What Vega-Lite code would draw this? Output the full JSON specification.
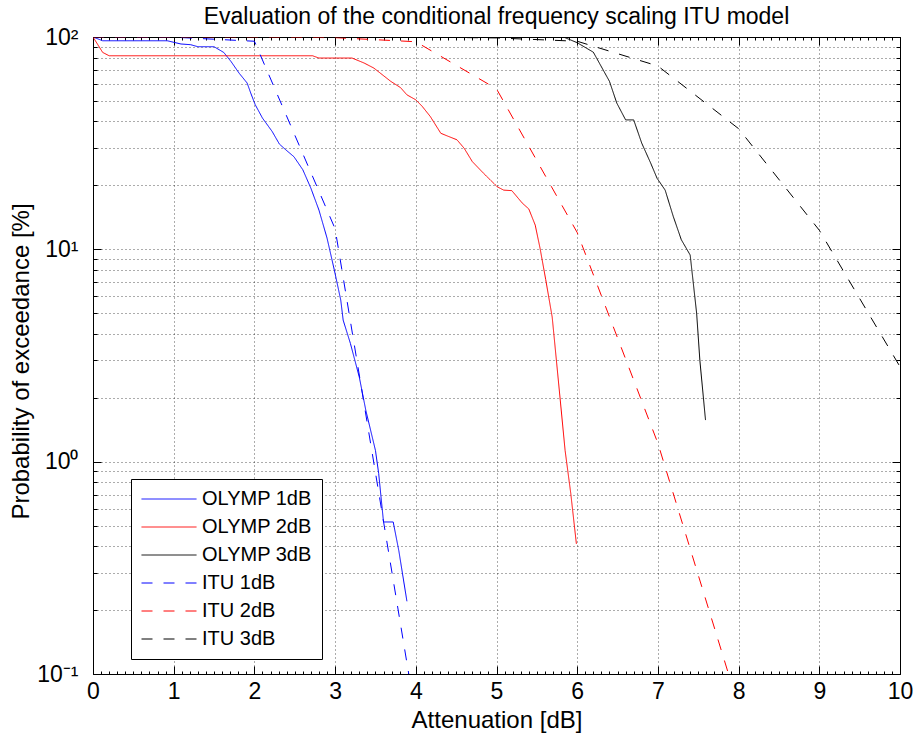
{
  "$schema": "https://vega.github.io/schema/vega-lite/v6.json",
  "width": 807,
  "height": 637,
  "autosize": {"type": "none"},
  "padding": {"left": 93, "top": 37, "right": 20, "bottom": 66},
  "background": "white",
  "title": {"text": "Evaluation of the conditional frequency scaling ITU model", "font": "Liberation Sans", "fontSize": 23, "fontWeight": "normal", "color": "#000000", "anchor": "middle", "frame": "group", "baseline": "alphabetic", "offset": -21},
  "data": {"values": [
    {"series": "OLYMP 1dB", "att": 0, "prob": 100},
    {"series": "OLYMP 1dB", "att": 0.12, "prob": 96},
    {"series": "OLYMP 1dB", "att": 0.92, "prob": 96},
    {"series": "OLYMP 1dB", "att": 1.09, "prob": 92.7},
    {"series": "OLYMP 1dB", "att": 1.21, "prob": 92},
    {"series": "OLYMP 1dB", "att": 1.3, "prob": 90},
    {"series": "OLYMP 1dB", "att": 1.5, "prob": 90},
    {"series": "OLYMP 1dB", "att": 1.62, "prob": 84.6},
    {"series": "OLYMP 1dB", "att": 1.71, "prob": 76.7},
    {"series": "OLYMP 1dB", "att": 1.81, "prob": 67.6},
    {"series": "OLYMP 1dB", "att": 1.91, "prob": 60.7},
    {"series": "OLYMP 1dB", "att": 1.955, "prob": 54.4},
    {"series": "OLYMP 1dB", "att": 2.01, "prob": 48},
    {"series": "OLYMP 1dB", "att": 2.1, "prob": 41.5},
    {"series": "OLYMP 1dB", "att": 2.22, "prob": 35.9},
    {"series": "OLYMP 1dB", "att": 2.31, "prob": 31.3},
    {"series": "OLYMP 1dB", "att": 2.39, "prob": 29.4},
    {"series": "OLYMP 1dB", "att": 2.49, "prob": 27.3},
    {"series": "OLYMP 1dB", "att": 2.6, "prob": 23.7},
    {"series": "OLYMP 1dB", "att": 2.7, "prob": 19.4},
    {"series": "OLYMP 1dB", "att": 2.8, "prob": 15.3},
    {"series": "OLYMP 1dB", "att": 2.9, "prob": 11.3},
    {"series": "OLYMP 1dB", "att": 2.99, "prob": 8.0},
    {"series": "OLYMP 1dB", "att": 3.07, "prob": 5.77},
    {"series": "OLYMP 1dB", "att": 3.1, "prob": 4.64},
    {"series": "OLYMP 1dB", "att": 3.19, "prob": 3.6},
    {"series": "OLYMP 1dB", "att": 3.3, "prob": 2.5},
    {"series": "OLYMP 1dB", "att": 3.38, "prob": 1.75},
    {"series": "OLYMP 1dB", "att": 3.5, "prob": 1.13},
    {"series": "OLYMP 1dB", "att": 3.54, "prob": 0.88},
    {"series": "OLYMP 1dB", "att": 3.6, "prob": 0.52},
    {"series": "OLYMP 1dB", "att": 3.72, "prob": 0.52},
    {"series": "OLYMP 1dB", "att": 3.79, "prob": 0.38},
    {"series": "OLYMP 1dB", "att": 3.89, "prob": 0.22},
    {"series": "OLYMP 2dB", "att": 0, "prob": 100},
    {"series": "OLYMP 2dB", "att": 0.12, "prob": 84.6},
    {"series": "OLYMP 2dB", "att": 0.2, "prob": 81.6},
    {"series": "OLYMP 2dB", "att": 2.72, "prob": 81.6},
    {"series": "OLYMP 2dB", "att": 2.8, "prob": 79.6},
    {"series": "OLYMP 2dB", "att": 3.21, "prob": 79.6},
    {"series": "OLYMP 2dB", "att": 3.36, "prob": 75.4},
    {"series": "OLYMP 2dB", "att": 3.48, "prob": 71.4},
    {"series": "OLYMP 2dB", "att": 3.69, "prob": 61.8},
    {"series": "OLYMP 2dB", "att": 3.81, "prob": 57.8},
    {"series": "OLYMP 2dB", "att": 3.89, "prob": 53.4},
    {"series": "OLYMP 2dB", "att": 4.0, "prob": 50.6},
    {"series": "OLYMP 2dB", "att": 4.08, "prob": 47.1},
    {"series": "OLYMP 2dB", "att": 4.18, "prob": 42.2},
    {"series": "OLYMP 2dB", "att": 4.31, "prob": 35.2},
    {"series": "OLYMP 2dB", "att": 4.39, "prob": 34.2},
    {"series": "OLYMP 2dB", "att": 4.51, "prob": 32.8},
    {"series": "OLYMP 2dB", "att": 4.6, "prob": 29.9},
    {"series": "OLYMP 2dB", "att": 4.7, "prob": 25.9},
    {"series": "OLYMP 2dB", "att": 4.84, "prob": 22.8},
    {"series": "OLYMP 2dB", "att": 5.01, "prob": 19.7},
    {"series": "OLYMP 2dB", "att": 5.09, "prob": 19.0},
    {"series": "OLYMP 2dB", "att": 5.19, "prob": 18.9},
    {"series": "OLYMP 2dB", "att": 5.32, "prob": 16.5},
    {"series": "OLYMP 2dB", "att": 5.4, "prob": 15.5},
    {"series": "OLYMP 2dB", "att": 5.48, "prob": 13.0},
    {"series": "OLYMP 2dB", "att": 5.54, "prob": 10.1},
    {"series": "OLYMP 2dB", "att": 5.61, "prob": 7.2},
    {"series": "OLYMP 2dB", "att": 5.69, "prob": 4.8},
    {"series": "OLYMP 2dB", "att": 5.73, "prob": 3.35},
    {"series": "OLYMP 2dB", "att": 5.79, "prob": 1.95},
    {"series": "OLYMP 2dB", "att": 5.85, "prob": 1.13},
    {"series": "OLYMP 2dB", "att": 5.92, "prob": 0.71},
    {"series": "OLYMP 2dB", "att": 5.99, "prob": 0.41},
    {"series": "OLYMP 3dB", "att": 0, "prob": 100},
    {"series": "OLYMP 3dB", "att": 5.83, "prob": 100},
    {"series": "OLYMP 3dB", "att": 6.0, "prob": 94},
    {"series": "OLYMP 3dB", "att": 6.2, "prob": 84.8},
    {"series": "OLYMP 3dB", "att": 6.4, "prob": 61.8},
    {"series": "OLYMP 3dB", "att": 6.49, "prob": 48.9},
    {"series": "OLYMP 3dB", "att": 6.6, "prob": 40.7},
    {"series": "OLYMP 3dB", "att": 6.7, "prob": 40.7},
    {"series": "OLYMP 3dB", "att": 6.8, "prob": 31.6},
    {"series": "OLYMP 3dB", "att": 6.91, "prob": 25.5},
    {"series": "OLYMP 3dB", "att": 6.99, "prob": 21.6},
    {"series": "OLYMP 3dB", "att": 7.09, "prob": 19.0},
    {"series": "OLYMP 3dB", "att": 7.19, "prob": 14.3},
    {"series": "OLYMP 3dB", "att": 7.29, "prob": 11.1},
    {"series": "OLYMP 3dB", "att": 7.4, "prob": 9.4},
    {"series": "OLYMP 3dB", "att": 7.48, "prob": 5.0},
    {"series": "OLYMP 3dB", "att": 7.52, "prob": 3.0},
    {"series": "OLYMP 3dB", "att": 7.59, "prob": 1.57},
    {"series": "ITU 1dB", "att": 0, "prob": 100},
    {"series": "ITU 1dB", "att": 1, "prob": 99.8},
    {"series": "ITU 1dB", "att": 2, "prob": 95.5},
    {"series": "ITU 1dB", "att": 3, "prob": 12.5},
    {"series": "ITU 1dB", "att": 4, "prob": 0.063},
    {"series": "ITU 2dB", "att": 0, "prob": 100},
    {"series": "ITU 2dB", "att": 1, "prob": 100},
    {"series": "ITU 2dB", "att": 2, "prob": 99.9},
    {"series": "ITU 2dB", "att": 3, "prob": 99.3},
    {"series": "ITU 2dB", "att": 4, "prob": 95},
    {"series": "ITU 2dB", "att": 5, "prob": 57},
    {"series": "ITU 2dB", "att": 6, "prob": 12},
    {"series": "ITU 2dB", "att": 7, "prob": 1.22},
    {"series": "ITU 2dB", "att": 8, "prob": 0.07},
    {"series": "ITU 3dB", "att": 0, "prob": 100},
    {"series": "ITU 3dB", "att": 4, "prob": 99.9},
    {"series": "ITU 3dB", "att": 5, "prob": 99},
    {"series": "ITU 3dB", "att": 6, "prob": 95.5},
    {"series": "ITU 3dB", "att": 7, "prob": 73},
    {"series": "ITU 3dB", "att": 8, "prob": 37},
    {"series": "ITU 3dB", "att": 9, "prob": 12.3},
    {"series": "ITU 3dB", "att": 10, "prob": 2.8}
  ]},
  "layer": [
    {
      "mark": {"type": "line", "strokeWidth": 1, "clip": true},
      "encoding": {
        "x": {"field": "att", "type": "quantitative",
          "scale": {"domain": [0, 10], "nice": false, "zero": false},
          "axis": {"orient": "bottom", "values": [0,1,2,3,4,5,6,7,8,9,10], "ticks": false, "domain": false,
            "grid": true, "gridColor": "#000000", "gridDash": [1, 3], "gridOpacity": 0.65, "gridWidth": 1,
            "labelFontSize": 23, "labelPadding": 24, "labelBaseline": "alphabetic", "labelFlush": false, "labelOverlap": false,
            "title": "Attenuation [dB]", "titleFontSize": 24, "titleFontWeight": "normal", "titleY": 53, "titleBaseline": "alphabetic"}},
        "y": {"field": "prob", "type": "quantitative",
          "scale": {"type": "log", "domain": [0.1, 100], "nice": false},
          "axis": {"orient": "left", "values": [0.1,0.2,0.3,0.4,0.5,0.6,0.7,0.8,0.9,1,2,3,4,5,6,7,8,9,10,20,30,40,50,60,70,80,90,100],
            "ticks": false, "domain": false,
            "grid": true, "gridColor": "#000000", "gridDash": [1, 3], "gridOpacity": 0.65, "gridWidth": 1,
            "labelExpr": "datum.value == 100 ? '10²' : datum.value == 10 ? '10¹' : datum.value == 1 ? '10⁰' : datum.value == 0.1 ? '10⁻¹' : ''",
            "labelFontSize": 23, "labelPadding": 15, "labelBaseline": "middle", "labelFlush": false, "labelOverlap": false,
            "title": "Probability of exceedance [%]", "titleFontSize": 24, "titleFontWeight": "normal", "titleX": -65, "titleY": 324, "titleAngle": -90, "titleAlign": "center", "titleBaseline": "alphabetic"}},
        "color": {"field": "series", "type": "nominal",
          "scale": {"domain": ["OLYMP 1dB", "OLYMP 2dB", "OLYMP 3dB", "ITU 1dB", "ITU 2dB", "ITU 3dB"],
            "range": ["#0000ff", "#ff0000", "#000000", "#0000ff", "#ff0000", "#000000"]},
          "legend": {"title": null, "orient": "none", "legendX": 38, "legendY": 442}},
        "strokeDash": {"field": "series", "type": "nominal",
          "scale": {"domain": ["OLYMP 1dB", "OLYMP 2dB", "OLYMP 3dB", "ITU 1dB", "ITU 2dB", "ITU 3dB"],
            "range": [[1, 0], [1, 0], [1, 0], [11, 11], [11, 11], [11, 11]]},
          "legend": {"title": null, "orient": "none", "legendX": 38, "legendY": 442}}
      }
    },
    {
      "mark": {"type": "point", "opacity": 0, "clip": true},
      "encoding": {
        "x": {"field": "att", "type": "quantitative", "scale": {"domain": [0, 10], "nice": false, "zero": false},
          "axis": {"orient": "bottom", "values": [0,1,2,3,4,5,6,7,8,9,10], "labels": false, "grid": false, "domain": false, "ticks": true, "tickSize": -8, "title": null}},
        "y": {"field": "prob", "type": "quantitative", "scale": {"type": "log", "domain": [0.1, 100], "nice": false},
          "axis": {"orient": "left", "values": [0.1, 1, 10, 100], "labels": false, "grid": false, "domain": false, "ticks": true, "tickSize": -8, "title": null}}
      }
    },
    {
      "mark": {"type": "point", "opacity": 0, "clip": true},
      "encoding": {
        "x": {"field": "att", "type": "quantitative", "scale": {"domain": [0, 10], "nice": false, "zero": false},
          "axis": {"orient": "bottom", "values": [0.1,0.2,0.3,0.4,0.5,0.6,0.7,0.8,0.9,1.1,1.2,1.3,1.4,1.5,1.6,1.7,1.8,1.9,2.1,2.2,2.3,2.4,2.5,2.6,2.7,2.8,2.9,3.1,3.2,3.3,3.4,3.5,3.6,3.7,3.8,3.9,4.1,4.2,4.3,4.4,4.5,4.6,4.7,4.8,4.9,5.1,5.2,5.3,5.4,5.5,5.6,5.7,5.8,5.9,6.1,6.2,6.3,6.4,6.5,6.6,6.7,6.8,6.9,7.1,7.2,7.3,7.4,7.5,7.6,7.7,7.8,7.9,8.1,8.2,8.3,8.4,8.5,8.6,8.7,8.8,8.9,9.1,9.2,9.3,9.4,9.5,9.6,9.7,9.8,9.9], "labels": false, "grid": false, "domain": false, "ticks": true, "tickSize": -3, "title": null}},
        "y": {"field": "prob", "type": "quantitative", "scale": {"type": "log", "domain": [0.1, 100], "nice": false},
          "axis": {"orient": "left", "values": [0.2,0.3,0.4,0.5,0.6,0.7,0.8,0.9,2,3,4,5,6,7,8,9,20,30,40,50,60,70,80,90], "labels": false, "grid": false, "domain": false, "ticks": true, "tickSize": -4, "title": null}}
      }
    },
    {
      "mark": {"type": "point", "opacity": 0, "clip": true},
      "encoding": {
        "x": {"field": "att", "type": "quantitative", "scale": {"domain": [0, 10], "nice": false, "zero": false},
          "axis": {"orient": "top", "values": [0,1,2,3,4,5,6,7,8,9,10], "labels": false, "grid": false, "domain": false, "ticks": true, "tickSize": -8, "title": null}},
        "y": {"field": "prob", "type": "quantitative", "scale": {"type": "log", "domain": [0.1, 100], "nice": false},
          "axis": {"orient": "right", "values": [0.1, 1, 10, 100], "labels": false, "grid": false, "domain": false, "ticks": true, "tickSize": -8, "title": null}}
      }
    },
    {
      "mark": {"type": "point", "opacity": 0, "clip": true},
      "encoding": {
        "x": {"field": "att", "type": "quantitative", "scale": {"domain": [0, 10], "nice": false, "zero": false},
          "axis": {"orient": "top", "values": [0.1,0.2,0.3,0.4,0.5,0.6,0.7,0.8,0.9,1.1,1.2,1.3,1.4,1.5,1.6,1.7,1.8,1.9,2.1,2.2,2.3,2.4,2.5,2.6,2.7,2.8,2.9,3.1,3.2,3.3,3.4,3.5,3.6,3.7,3.8,3.9,4.1,4.2,4.3,4.4,4.5,4.6,4.7,4.8,4.9,5.1,5.2,5.3,5.4,5.5,5.6,5.7,5.8,5.9,6.1,6.2,6.3,6.4,6.5,6.6,6.7,6.8,6.9,7.1,7.2,7.3,7.4,7.5,7.6,7.7,7.8,7.9,8.1,8.2,8.3,8.4,8.5,8.6,8.7,8.8,8.9,9.1,9.2,9.3,9.4,9.5,9.6,9.7,9.8,9.9], "labels": false, "grid": false, "domain": false, "ticks": true, "tickSize": -3, "title": null}},
        "y": {"field": "prob", "type": "quantitative", "scale": {"type": "log", "domain": [0.1, 100], "nice": false},
          "axis": {"orient": "right", "values": [0.2,0.3,0.4,0.5,0.6,0.7,0.8,0.9,2,3,4,5,6,7,8,9,20,30,40,50,60,70,80,90], "labels": false, "grid": false, "domain": false, "ticks": true, "tickSize": -4, "title": null}}
      }
    }
  ],
  "resolve": {"axis": {"x": "independent", "y": "independent"}},
  "config": {
    "font": "Liberation Sans",
    "view": {"stroke": "#000000", "strokeWidth": 1},
    "axis": {"labelFont": "Liberation Sans", "titleFont": "Liberation Sans", "labelColor": "#000000", "titleColor": "#000000", "tickColor": "#000000", "tickWidth": 1, "minExtent": 0},
    "legend": {"strokeColor": "#000000", "fillColor": "#ffffff", "padding": 10, "cornerRadius": 0,
      "symbolType": "M-5,0L5,0", "symbolSize": 121, "symbolStrokeWidth": 1, "symbolOffset": 18,
      "labelFont": "Liberation Sans", "labelFontSize": 20, "labelColor": "#000000", "labelOffset": 23, "rowPadding": 8, "labelLimit": 300}
  }
}
